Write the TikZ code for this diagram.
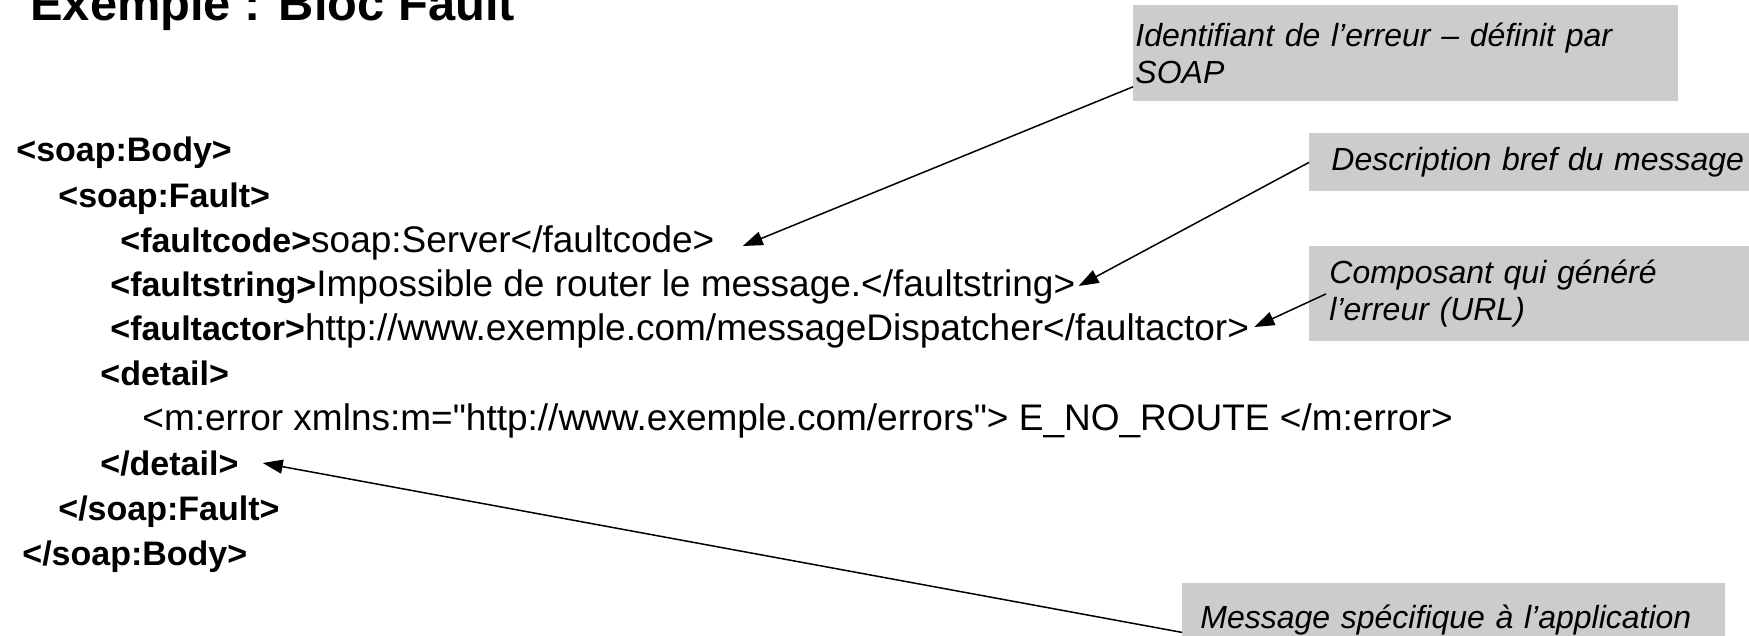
\documentclass[tikz,border=0pt]{standalone}
\usepackage{fontspec}
\setmainfont{Liberation Sans}
\usepackage{xcolor}
\usetikzlibrary{calc,positioning,arrows.meta}

\definecolor{notegray}{RGB}{204,204,204}
\newcommand{\tg}[1]{{\fontsize{17pt}{20pt}\selectfont\bfseries #1}}
\newcommand{\tx}[1]{{\fontsize{18.5pt}{22pt}\selectfont #1}}

\begin{document}
\begin{tikzpicture}[x=0.5pt,y=-0.5pt]
\tikzstyle{every node}=[inner sep=0pt,anchor=base west];
\tikzstyle{note}=[fill=notegray,anchor=north west,align=left,inner ysep=0pt,font=\fontsize{16pt}{18.5pt}\selectfont\itshape];
\tikzstyle{ptr}=[line width=0.75pt,-{Triangle[length=10pt,width=7pt]}];

\useasboundingbox (0,0) rectangle (1749,636);
\clip (0,0) rectangle (1749,636);

\node (title) at (30,21) {\fontsize{24.4pt}{28pt}\selectfont\bfseries Exemple : Bloc Fault};

% xml lines
\node (body)   at (16,162)  {\tg{<soap:Body>}};
\node (fault)  at (58,207)  {\tg{<soap:Fault>}};
\node (fcode)  at (120,252) {\tg{<faultcode>}\tx{soap:Server</faultcode>}};
\node (fstring) at (110,296) {\tg{<faultstring>}\tx{Impossible de router le message.</faultstring>}};
\node (factor) at (110,340) {\tg{<faultactor>}\tx{http://www.exemple.com/messageDispatcher</faultactor>}};
\node (detail) at (100,385) {\tg{<detail>}};
\node (merror) at (142,430) {\tx{<m:error xmlns:m=\textquotedbl http://www.exemple.com/errors\textquotedbl> E\_NO\_ROUTE </m:error>}};
\node (detailend) at (100,475) {\tg{</detail>}};
\node (faultend) at (58,520) {\tg{</soap:Fault>}};
\node (bodyend) at (22,565) {\tg{</soap:Body>}};

% notes
\node[note,inner xsep=1pt,text width=270.5pt,minimum height=48pt] (ident) at (1133,5)
  {Identifiant de l’erreur – définit par\\SOAP};
\node[note,inner xsep=11pt,text width=218pt,minimum height=29pt] (desc) at (1309,133)
  {Description bref du message};
\node[note,inner xsep=10pt,text width=220pt,minimum height=47.5pt] (comp) at (1309,246)
  {Composant qui généré\\l’erreur (URL)};
\node[note,inner xsep=9pt,text width=253.5pt,minimum height=37pt] (msg) at (1182,583)
  {Message spécifique à l’application};

% arrow ends
\coordinate (tcode) at ($(fcode.base east)+(28,-6)$);
\coordinate (tstring) at ($(fstring.base east)+(3,-10)$);
\coordinate (tactor) at ($(factor.base east)+(5,-13)$);
\coordinate (tdetail) at ($(detailend.base east)+(24,-12)$);

\draw[ptr] ($(ident.south west)+(0,-15)$) -- (tcode);
\draw[ptr] (desc.west) -- (tstring);
\draw[ptr] ($(comp.west)+(17,0)$) -- (tactor);
\draw[ptr] ($(msg.west)+(0,12)$) -- (tdetail);
\end{tikzpicture}
\end{document}
